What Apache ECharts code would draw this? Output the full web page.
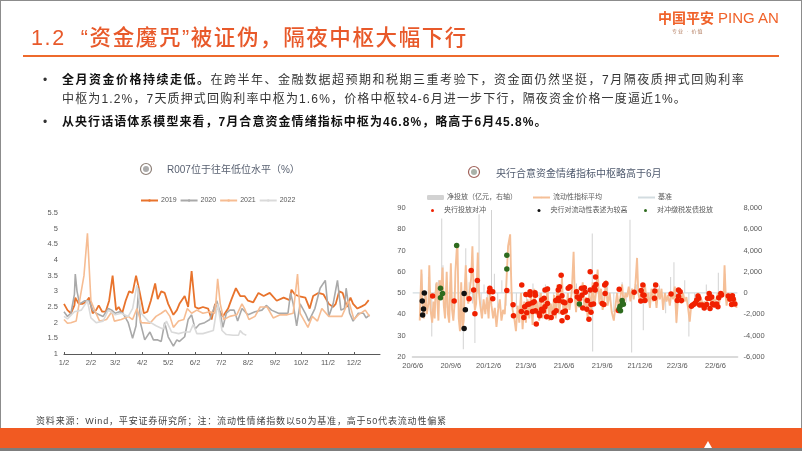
<!DOCTYPE html>
<html>
<head>
<meta charset="utf-8">
<script src="https://cdn.jsdelivr.net/npm/echarts@6/dist/echarts.min.js"></script>
<style>
html, body { margin: 0; padding: 0; background: #fff; }
#page { position: relative; width: 802px; height: 451px; overflow: hidden; font-family: "Liberation Sans", "Noto Sans CJK SC", sans-serif; }
#chart { position: absolute; left: 0; top: 0; width: 802px; height: 451px; }
.t { position: absolute; white-space: nowrap; z-index: 2; }
.body { font-size: 12px; letter-spacing: 1.5px; color: #333; line-height: 16px; }
.body b { color: #111; }
.box { position: absolute; z-index: 1; }
</style>
</head>
<body>
<div id="page">
  <div id="chart"></div>
  <div class="box" style="left:0;top:0;width:802px;height:1px;background:#8c8c8c"></div>
  <div class="box" style="left:0;top:0;width:1px;height:451px;background:#8c8c8c"></div>
  <div class="box" style="left:801px;top:0;width:1px;height:451px;background:#8c8c8c"></div>
  <div class="box" style="left:23px;top:55px;width:756px;height:2px;background:#EE6A2C"></div>
  <div class="box" style="left:0;top:428px;width:802px;height:20px;background:#F15A22"></div>
  <div class="box" style="left:0;top:448px;width:802px;height:3px;background:#7d7d7d"></div>
  <div class="t" style="left:704px;top:441px;width:8px;height:7px;background:#fff;clip-path:polygon(0 100%,50% 0,100% 100%)"></div>
  <div class="t" style="left:31px;top:24px;font-size:21.5px;font-weight:500;letter-spacing:1.6px;line-height:28px;color:#E8592A">1.2 &nbsp;“资金魔咒”被证伪，隔夜中枢大幅下行</div>
  <div class="t" style="left:658px;top:9px;font-size:14px;font-weight:bold;line-height:18px;color:#F0622A">中国平安</div>
  <div class="t" style="left:718px;top:9px;font-size:15px;line-height:18px;color:#F0622A">PING AN</div>
  <div class="t" style="left:672px;top:27px;font-size:5px;letter-spacing:1px;line-height:8px;color:#B0785A">专业 · 价值</div>
  <div class="t body" style="left:43px;top:72px">•</div>
  <div class="t body" style="left:62px;top:72px"><b>全月资金价格持续走低。</b>在跨半年、金融数据超预期和税期三重考验下，资金面仍然坚挺，7月隔夜质押式回购利率</div>
  <div class="t body" style="left:62px;top:91px;letter-spacing:1.15px">中枢为1.2%，7天质押式回购利率中枢为1.6%，价格中枢较4-6月进一步下行，隔夜资金价格一度逼近1%。</div>
  <div class="t body" style="left:43px;top:114px">•</div>
  <div class="t body" style="left:62px;top:114px;letter-spacing:1.05px"><b>从央行话语体系模型来看，7月合意资金情绪指标中枢为46.8%，略高于6月45.8%。</b></div>
  <div class="t" style="left:36px;top:414px;font-size:9px;letter-spacing:.83px;line-height:14px;color:#444">资料来源：Wind，平安证券研究所；注：流动性情绪指数以50为基准，高于50代表流动性偏紧</div>
</div>
<script>
// 左图 R007，x 为 1/2 起的天数
const monthDays = [0, 31, 59, 90, 120, 151, 181, 212, 243, 273, 304, 334];
const monthLabels = ['1/2', '2/2', '3/2', '4/2', '5/2', '6/2', '7/2', '8/2', '9/2', '10/2', '11/2', '12/2'];
const r2019 = [[0,2.6],[4,2.4],[8,2.3],[12,2.55],[13,2.8],[17,2.6],[21,2.6],[25,2.65],[29,2.8],[33,2.3],[37,2.4],[40,2.55],[44,2.35],[48,2.35],[52,2.7],[56,3.5],[60,2.4],[63,2.5],[67,2.3],[71,2.7],[75,3],[79,2.95],[83,3.5],[87,3],[92,2.3],[96,2.35],[100,2.7],[105,3.25],[108,2.75],[112,3],[116,2.95],[120,2.6],[126,2.25],[130,2.4],[133,2.6],[139,2.85],[143,2.5],[147,3.65],[151,2.5],[155,2.45],[160,2.5],[166,2.45],[170,2.1],[174,2.6],[183,2.2],[189,2.45],[193,2.75],[198,3.1],[203,2.85],[208,2.85],[212,2.7],[218,2.65],[224,2.95],[230,2.85],[237,2.95],[245,2.7],[253,2.8],[260,2.72],[262,3.05],[266,2.9],[270,2.85],[278,2.8],[283,2.45],[287,2.85],[293,2.95],[299,2.9],[305,2.6],[310,2.5],[313,2.6],[317,3],[321,2.95],[326,2.5],[330,2.8],[333,2.6],[338,2.45],[343,2.52],[347,2.58],[351,2.72]];
const r2020 = [[0,2.35],[4,2.2],[8,2.3],[12,2.9],[13,3.55],[15,3],[18,2.6],[24,2.7],[29,2.7],[33,2.4],[37,2.3],[45,2.2],[51,2.45],[55,2.4],[59,2.3],[64,2.35],[68,2.3],[74,2],[79,1.5],[83,1.9],[86,3.1],[88,2],[93,1.45],[99,1.7],[103,1.45],[108,1.45],[112,1.4],[116,2],[120,1.55],[126,1.25],[130,1.45],[133,1.4],[139,1.55],[143,2.1],[147,2.25],[151,1.8],[156,1.95],[162,2],[168,2.1],[176,2.7],[180,2.3],[183,1.85],[187,2.3],[191,2.4],[196,2.4],[200,2.05],[205,2.45],[212,2.25],[220,2.35],[228,2.4],[233,2.55],[239,2.4],[247,2.3],[253,2.3],[258,2.3],[261,2.95],[264,2.6],[268,1.9],[272,2.6],[278,2.3],[282,2.05],[289,2.45],[295,3.1],[301,3.35],[305,2.2],[310,2.6],[315,3.35],[319,2.4],[323,2.45],[325,3.1],[329,2.3],[333,2.05],[339,2.3],[345,2.3],[348,2.15],[352,2.25]];
const r2021 = [[0,2.1],[4,1.98],[8,2],[14,2.05],[18,2.7],[23,3.5],[27,4.85],[31,2.7],[36,2.35],[41,2.05],[49,2.1],[55,2.35],[58,2.05],[66,2.1],[74,2.2],[79,2.1],[84,2.45],[89,2],[99,1.98],[106,2.2],[112,2.3],[117,2.4],[122,2.2],[126,1.85],[132,2.05],[138,2.1],[142,2.45],[147,2.3],[153,2.4],[160,2.3],[168,2.35],[174,2.3],[177,3.4],[180,2.6],[184,2.1],[191,2.2],[199,2.25],[205,2.6],[208,2.45],[213,2.1],[220,2.2],[226,2.5],[234,2.5],[241,2.15],[249,2.25],[257,2.25],[264,2.3],[269,3.55],[272,2.3],[278,2],[281,1.85],[286,2.2],[292,2.05],[297,2.45],[305,2.2],[312,2.2],[320,2.2],[328,2.7],[334,2.1],[339,2.25],[347,2.4],[352,2.2]];
const r2022 = [[0,2.2],[4,2.12],[12,2.35],[20,2.4],[27,2.7],[31,2.15],[37,2],[45,2.05],[51,2.4],[59,2.25],[66,2.3],[74,2.2],[79,2.45],[84,3.2],[89,2.3],[97,2.05],[106,1.9],[114,1.8],[118,2.05],[124,1.7],[132,1.65],[139,1.7],[145,1.7],[149,1.95],[153,1.65],[160,1.65],[172,1.75],[177,2.6],[182,1.75],[187,1.62],[195,1.6],[201,1.6],[203,1.75],[206,1.65],[210,1.6]];

// 右图，x 为 20/6/6 起的天数
const dateDays = [0, 92, 183, 273, 365, 457, 548, 638, 730];
const dateLabels = ['20/6/6', '20/9/6', '20/12/6', '21/3/6', '21/6/6', '21/9/6', '21/12/6', '22/3/6', '22/6/6'];
const netInjection = [[18,-1500],[22,1800],[30,-1200],[38,1500],[46,-4100],[55,900],[62,1200],[70,7000],[73,2600],[80,-1400],[90,1000],[100,-1300],[110,1500],[116,-1500],[122,-5300],[128,4200],[136,1000],[144,-1000],[150,-4700],[156,1200],[160,7400],[165,-1600],[172,800],[180,-1300],[190,7800],[197,1800],[205,-1400],[215,1200],[225,-1200],[240,-800],[250,-1500],[262,-900],[275,-1000],[290,900],[305,-1000],[320,800],[340,-900],[355,700],[375,-800],[395,900],[410,-700],[425,-1200],[433,5600],[434,-5500],[445,1200],[458,-900],[470,1000],[485,-1800],[505,1000],[515,-900],[524,6900],[528,-5600],[540,800],[556,-3500],[570,-900],[582,1000],[595,700],[610,-1900],[622,1500],[630,2900],[636,-2850],[645,-900],[656,1200],[666,-4100],[680,-600],[708,800],[720,-700],[737,1900],[753,1800],[770,-700]];
const liquidity = [[17,37],[21,61],[24,44],[27,38],[31,51],[34,40],[38,45],[40,63],[43,42],[47,36],[50,46],[53,38],[55,50],[58,55],[60,44],[62,37],[65,56],[69,52],[72,62],[75,44],[78,38],[82,60],[85,40],[88,36],[92,64],[95,42],[98,37],[101,45],[103,60],[106,70],[108,72.5],[111,38],[114,32],[117,55],[120,33],[123,37],[125,50],[128,63],[131,48],[134,45],[138,52],[141,57],[144,72],[147,50],[150,42],[153,45],[157,69],[160,50],[163,44],[167,38],[171,47],[175,40],[179,48],[183,38],[186,52],[190,44],[194,38],[198,43],[202,34],[206,42],[210,47],[214,37],[218,42],[222,40],[226,55],[230,72],[235,77.6],[237,60],[239,46],[241,42],[245,38],[249,32],[253,44],[257,36],[261,50],[265,33],[269,46],[273,36],[277,47],[281,38],[285,49],[289,35],[293,52],[297,40],[301,46],[305,37],[309,50],[313,38],[317,46],[321,40],[325,53],[329,37],[333,45],[337,39],[341,49],[345,38],[349,54],[353,40],[357,47],[360,57],[363,42],[367,47],[370,39],[374,50],[378,42],[381,46],[384,52],[388,69.4],[391,48],[394,41],[398,52],[402,43],[406,46],[410,55],[414,43],[418,48],[422,38],[426,50],[430,42],[434,55],[438,44],[442,50],[446,61],[450,45],[454,52],[458,42],[462,47],[466,56],[470,44],[475,50],[480,41],[485,37],[489,44],[493,50],[497,42],[501,48],[505,54],[509,44],[513,50],[517,48],[521,53],[525,46],[529,52],[533,47],[537,54],[541,66.5],[544,50],[548,46],[552,52],[556,47],[560,54],[564,46],[568,50],[572,43],[576,52],[580,46],[584,50],[588,43],[592,52],[596,47],[600,52],[604,42],[608,50],[612,46],[616,49],[620,44],[624,50],[628,47],[632,53],[636,36],[640,48],[644,52],[648,45],[652,50],[656,46],[660,48],[664,43],[668,36.5],[672,45],[676,44],[680,46],[684,47],[688,50],[692,45],[696,47],[700,44],[704,46],[708,43],[712,48],[716,50],[720,44],[724,48],[728,46],[732,47],[736,50],[739,45],[743,50],[746,48],[750,50],[752,63],[755,48],[757,44],[761,50],[765,47],[769,50],[773,46],[777,48],[781,43]];
const baseline = [[0,50],[783,50]];
const hedgeDots = [[48,48.6],[100,46.2],[141,60.6],[147,51.4],[136,47.3],[156,55.9],[150,40.2],[186,52.2],[185,50.6],[193,50.6],[193,47.3],[227,51.2],[242,44.5],[243,39.3],[263,53.7],[262,41.3],[268,38.4],[270,43.5],[275,40.7],[273,49.3],[277,44.6],[283,50.6],[283,49],[281,44.8],[289,45.4],[289,41.3],[295,50.1],[296,48.9],[293,45.9],[296,41.6],[298,35.4],[305,40.4],[306,39.3],[311,46.7],[311,42.3],[317,47.5],[315,41.5],[319,51.4],[325,51.9],[323,38.8],[325,45.1],[319,43.5],[334,38.4],[341,40.7],[345,46.4],[346,41.6],[351,51.4],[354,52.9],[351,47.5],[358,58.3],[360,48.7],[353,46.4],[360,36.9],[363,45.7],[367,45.4],[362,40.9],[368,41.5],[373,38.4],[375,52.2],[379,52.9],[380,46.4],[395,50.6],[397,48.1],[402,47.3],[407,52.2],[414,52.5],[416,50.3],[408,48.9],[410,42.9],[420,42.3],[425,37.6],[421,46.4],[428,60],[428,51.4],[430,40.9],[436,44.8],[430,44.6],[440,51.4],[438,52.6],[441,57.5],[442,54],[464,49.7],[457,45.1],[461,44.6],[466,54.5],[463,53.7],[496,41.8],[498,51.7],[534,50.3],[550,46.2],[551,51.2],[555,53.7],[555,49],[560,46.5],[558,48.9],[583,47.5],[584,50.9],[586,53.7],[623,49.5],[641,51.4],[645,50.6],[641,48.4],[638,46.5],[648,46.5],[672,43.8],[675,44.3],[679,44.8],[682,45.4],[685,46.7],[688,48.6],[690,47.5],[692,44.3],[698,44.3],[703,42.9],[709,44.6],[711,47.5],[715,49.7],[721,48.1],[717,42.7],[716,47.5],[723,44.9],[727,44.3],[733,44.8],[736,43.5],[738,47.8],[743,49.8],[745,49],[761,48.6],[765,47.1],[771,48.7],[773,47],[769,44.6],[777,44.8]];
const tightDots = [[23,46.2],[28,50],[26,42.4],[24,39.6],[124,49.7],[127,42.1],[124,33.3]];
const taxDots = [[67,52.2],[72,49.8],[67,47.8],[106,72.4],[227,67.7],[227,61.3],[402,44.8],[505,46.4],[506,45],[500,43.8],[501,41.6],[498,42.6],[508,44.7]];

const labelColor = '#595959';
const fontName = '"Liberation Sans", "Noto Sans CJK SC", sans-serif';

const rateLine = (name, data, color, width) => ({
    name, type: 'line', data, xAxisIndex: 0, yAxisIndex: 0,
    showSymbol: false, symbol: 'none',
    lineStyle: { color, width }, itemStyle: { color },
});
const dotSeries = (name, data, color) => ({
    name, type: 'scatter', data, xAxisIndex: 1, yAxisIndex: 1,
    symbolSize: 5.5, itemStyle: { color, borderWidth: 0, opacity: 1 }, z: 5,
});
const legendAt = (left, top, names, extra) => Object.assign({
    left, top, data: names, orient: 'horizontal', padding: 0,
    itemHeight: 3, itemWidth: 17, itemGap: 6,
    textStyle: { fontSize: 7, color: labelColor, fontFamily: fontName, padding: [0, 0, 0, -2] },
}, extra);

const option = {
    animation: false,
    backgroundColor: '#ffffff',
    textStyle: { fontFamily: fontName },
    title: [
        { text: 'R007位于往年低位水平（%）', left: 167, top: 165, padding: 0, textStyle: { fontSize: 10, fontWeight: 'normal', color: '#5A6272' } },
        { text: '央行合意资金情绪指标中枢略高于6月', left: 496, top: 169, padding: 0, textStyle: { fontSize: 10, fontWeight: 'normal', color: '#4F5A6E' } },
    ],
    legend: [
        legendAt(140, 197, ['2019', '2020', '2021', '2022'], { itemGap: 3 }),
        legendAt(427, 194, ['净投放（亿元，右轴）'], { itemHeight: 5 }),
        legendAt(532, 194, ['流动性指标平均'], { itemHeight: 2 }),
        legendAt(637, 194, ['基准'], { itemHeight: 1 }),
        legendAt(431, 207, ['央行投放对冲'], { icon: 'circle', itemHeight: 3 }),
        legendAt(537.5, 207, ['央行对流动性表述为较高'], { icon: 'circle', itemHeight: 3 }),
        legendAt(644, 207, ['对冲缴税发债投放'], { icon: 'circle', itemHeight: 3 }),
    ],
    grid: [
        { left: 64, right: 422, top: 213, height: 141 },
        { left: 412.7, right: 64.6, top: 208, height: 148.7 },
    ],
    xAxis: [
        {
            type: 'value', gridIndex: 0, min: 0, max: 364,
            splitLine: { show: false },
            axisLine: { lineStyle: { color: '#595959', width: 1 } },
            axisTick: { show: true, length: 2, inside: true, customValues: monthDays, lineStyle: { color: '#595959' } },
            axisLabel: {
                customValues: monthDays, color: labelColor, fontSize: 7.5, margin: 5,
                formatter: (v) => monthLabels[monthDays.indexOf(v)],
            },
        },
        {
            type: 'value', gridIndex: 1, min: 0, max: 783,
            splitLine: { show: false },
            axisLine: { onZero: false, lineStyle: { color: '#DADADA', width: 2 } },
            axisTick: { show: false },
            axisLabel: {
                customValues: dateDays, color: labelColor, fontSize: 7.5, margin: 5,
                formatter: (v) => dateLabels[dateDays.indexOf(v)],
            },
        },
    ],
    yAxis: [
        {
            type: 'value', gridIndex: 0, min: 1, max: 5.5, interval: 0.5,
            splitLine: { show: false }, axisLine: { show: false }, axisTick: { show: false },
            axisLabel: { color: labelColor, fontSize: 7.5, margin: 6 },
        },
        {
            type: 'value', gridIndex: 1, min: 20, max: 90, interval: 10,
            splitLine: { show: false }, axisLine: { show: false }, axisTick: { show: false },
            axisLabel: { color: labelColor, fontSize: 7.5, margin: 7 },
        },
        {
            type: 'value', gridIndex: 1, position: 'right', min: -6000, max: 8000, interval: 2000,
            splitLine: { show: false }, axisLine: { show: false }, axisTick: { show: false },
            axisLabel: {
                color: labelColor, fontSize: 7.5, margin: 6,
                formatter: (v) => v.toLocaleString('en-US'),
            },
        },
    ],
    series: [
        rateLine('2019', r2019, '#E8732C', 1.8),
        rateLine('2020', r2020, '#A9A9A9', 1.6),
        rateLine('2021', r2021, '#F6BC92', 1.6),
        rateLine('2022', r2022, '#DADADA', 1.6),
        {
            name: '净投放（亿元，右轴）', type: 'bar', data: netInjection, xAxisIndex: 1, yAxisIndex: 2,
            barWidth: 1, itemStyle: { color: '#D2D2D2' },
        },
        {
            name: '基准', type: 'line', data: baseline, xAxisIndex: 1, yAxisIndex: 1, symbol: 'none',
            lineStyle: { color: '#D3DCE0', width: 1.2 }, itemStyle: { color: '#D3DCE0' },
        },
        {
            name: '流动性指标平均', type: 'line', data: liquidity, xAxisIndex: 1, yAxisIndex: 1, symbol: 'none',
            lineStyle: { color: '#F5BF97', width: 1.9 }, itemStyle: { color: '#F5BF97' },
        },
        dotSeries('央行投放对冲', hedgeDots, '#F02000'),
        dotSeries('央行对流动性表述为较高', tightDots, '#111111'),
        dotSeries('对冲缴税发债投放', taxDots, '#2E6B1E'),
    ],
    graphic: [
        { type: 'circle', shape: { cx: 146, cy: 169, r: 5.5 }, style: { fill: '#fff', stroke: '#8E8078', lineWidth: 1.2 } },
        { type: 'circle', shape: { cx: 146, cy: 169, r: 3 }, style: { fill: '#ABABAB' } },
        { type: 'circle', shape: { cx: 474, cy: 172, r: 5.5 }, style: { fill: '#fff', stroke: '#A0625A', lineWidth: 1.2 } },
        { type: 'circle', shape: { cx: 474, cy: 172, r: 3 }, style: { fill: '#A9B2A9' } },
    ],
};

const chart = echarts.init(document.getElementById('chart'), null, { renderer: 'canvas' });
chart.setOption(option);
</script>
</body>
</html>
